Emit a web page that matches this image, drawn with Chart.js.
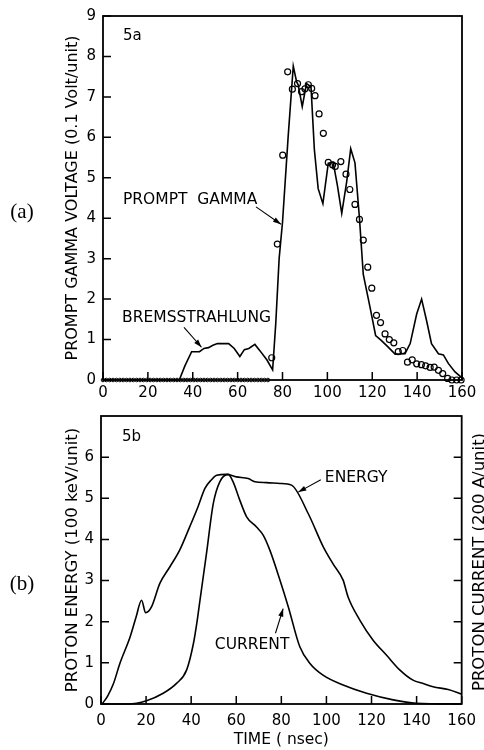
<!DOCTYPE html>
<html lang="en">
<head>
  <meta charset="UTF-8">
  <title>Prompt gamma voltage and proton beam</title>
  <script src="https://cdn.jsdelivr.net/npm/chart.js"></script>
  <style>
    html, body { margin: 0; padding: 0; background: #fff; }
    canvas { display: block; }
  </style>
</head>
<body>
  <canvas id="gammaChart" width="484" height="400"></canvas>
  <canvas id="protonChart" width="484" height="350"></canvas>

  <script>
    // ---- 5a: prompt gamma voltage (solid line) and bremsstrahlung/measured points (circles)
    const gammaTime = [0, 34, 36.5, 39.5, 43, 45, 47, 49, 51, 56, 58.5, 61, 63, 65, 67.7, 70, 73, 75.6, 77, 78.5,
      80, 82.5, 84.8, 86.3, 87, 88.8, 90.7, 92.7, 94.2, 95.9, 98, 100.4, 102.6, 104.5, 106.4, 108.6, 110.4, 112.3, 114.3, 116,
      119, 121.5, 124, 127, 130.2, 134.6, 136.9, 139.8, 142, 144.2, 146.4, 149.5, 151.7, 153.9, 156.9, 160];
    const gammaVolt = [0, 0, 0.35, 0.7, 0.7, 0.78, 0.8, 0.86, 0.9, 0.9, 0.78, 0.58, 0.75, 0.78, 0.88, 0.72, 0.5, 0.25, 1.4, 3.0,
      3.9, 6.0, 7.76, 7.37, 7.3, 6.76, 7.33, 7.25, 5.7, 4.73, 4.36, 5.36, 5.38, 4.8, 4.12, 4.9, 5.72, 5.37, 4.0, 2.61,
      1.8, 1.1, 0.98, 0.82, 0.64, 0.65, 0.9, 1.63, 2.0, 1.47, 0.9, 0.65, 0.62, 0.41, 0.2, 0.05];

    const dotTime = [75.2, 77.7, 80.1, 82.3, 84.4, 86.7, 88.5, 90, 91.5, 93, 94.5, 96.3, 98.2, 100.4, 102.3, 103.5, 106, 108.3, 110, 112.3,
      114.3, 116, 118, 119.8, 121.9, 123.7, 125.7, 127.6, 129.6, 131.6, 133.6, 135.7, 137.8, 139.8, 141.9, 143.8, 145.8, 147.6, 149.5, 151.4,
      153.6, 155.5, 157.6, 159.6];
    const dotVolt = [0.55, 3.36, 5.56, 7.62, 7.19, 7.33, 7.13, 7.2, 7.3, 7.21, 7.03, 6.58, 6.1, 5.38, 5.32, 5.28, 5.4, 5.09, 4.71, 4.34,
      3.97, 3.46, 2.79, 2.27, 1.6, 1.42, 1.14, 1.0, 0.92, 0.7, 0.73, 0.44, 0.5, 0.4, 0.38, 0.35, 0.31, 0.32, 0.24, 0.16,
      0.04, 0, 0, 0];

    // small circles sitting on the baseline before the pulse
    const baseTime = [0, 1.5, 3, 4.5, 6, 7.5, 9, 10.5, 12, 13.5, 15, 16.5, 18, 19.5, 21, 22.5, 24, 25.5, 27, 28.5,
      30, 31.5, 33, 34.5, 36, 37.5, 39, 40.5, 42, 43.5, 45, 46.5, 48, 49.5, 51, 52.5, 54, 55.5, 57, 58.5,
      60, 61.5, 63, 64.5, 66, 67.5, 69, 70.5, 72, 73.5];
    const baseVolt = [0, 0, 0, 0, 0, 0, 0, 0, 0, 0, 0, 0, 0, 0, 0, 0, 0, 0, 0, 0,
      0, 0, 0, 0, 0, 0, 0, 0, 0, 0, 0, 0, 0, 0, 0, 0, 0, 0, 0, 0,
      0, 0, 0, 0, 0, 0, 0, 0, 0, 0];

    // ---- 5b: proton energy and proton current
    const energyTime = [0.5, 3, 5.5, 8.4, 12.9, 15.5, 18, 19.8, 22.4, 26.1, 30.5, 34.9, 39.3, 43, 46.1, 49, 51.3, 55.7, 60.1, 65.3,
      68.3, 73.5, 79.4, 84.5, 91.9, 98.6, 103, 107.4, 109.6, 114.8, 120.7, 126.6, 132.5, 138.4, 142.9, 147.3, 154, 160];
    const energyVal = [0, 0.2, 0.49, 0.99, 1.63, 2.1, 2.52, 2.22, 2.36, 2.93, 3.33, 3.74, 4.3, 4.79, 5.24, 5.45, 5.56, 5.58, 5.52, 5.48,
      5.4, 5.38, 5.36, 5.32, 4.63, 3.82, 3.4, 3.01, 2.6, 2.04, 1.55, 1.19, 0.83, 0.58, 0.5, 0.42, 0.35, 0.24];

    const currentTime = [0, 12, 20.2, 27.6, 33.5, 38, 41, 42.7, 43.9, 46.8, 49.8, 52.7, 56.4, 58.6, 61.6, 64.6, 69, 72, 74.9, 79.4,
      83.1, 88.2, 92.6, 98.5, 107.4, 117.8, 129.6, 139.9, 160];
    const currentVal = [0, 0, 0.08, 0.26, 0.5, 0.83, 1.47, 2.04, 2.52, 3.66, 4.87, 5.4, 5.58, 5.4, 4.95, 4.55, 4.3, 4.1, 3.74, 3.01,
      2.36, 1.39, 0.99, 0.7, 0.46, 0.26, 0.1, 0.02, 0];

    const SANS = "'DejaVu Sans', sans-serif";
    const SERIF = "'Liberation Serif', serif";

    const pts = (xs, ys) => xs.map((x, i) => ({ x: x, y: ys[i] }));

    // frame, inward ticks, labels with arrows
    const figurePlugin = {
      id: 'figure',
      afterDatasetsDraw(chart, args, opts) {
        const { ctx, chartArea: a, scales } = chart;
        const sx = scales.x, sy = scales.y;
        ctx.save();
        ctx.strokeStyle = '#000';
        ctx.fillStyle = '#000';
        ctx.lineWidth = 1.8;
        ctx.strokeRect(a.left, a.top, a.right - a.left, a.bottom - a.top);

        ctx.lineWidth = 1.5;
        ctx.beginPath();
        (opts.tickSides || []).forEach(([id, side]) => {
          const s = scales[id];
          s.ticks.forEach(t => {
            const p = s.getPixelForValue(t.value);
            if (side === 'bottom') { ctx.moveTo(p, a.bottom); ctx.lineTo(p, a.bottom - 8); }
            if (side === 'left') { ctx.moveTo(a.left, p); ctx.lineTo(a.left + 8, p); }
            if (side === 'right') { ctx.moveTo(a.right, p); ctx.lineTo(a.right - 8, p); }
          });
        });
        ctx.stroke();

        ctx.textBaseline = 'middle';
        ctx.textAlign = 'left';
        (opts.labels || []).forEach(l => {
          ctx.font = (l.size || 15.5) + 'px ' + SANS;
          ctx.fillText(l.text, sx.getPixelForValue(l.x), sy.getPixelForValue(l.y));
        });

        ctx.lineWidth = 1.1;
        (opts.arrows || []).forEach(ar => {
          const x1 = sx.getPixelForValue(ar.from[0]), y1 = sy.getPixelForValue(ar.from[1]);
          const x2 = sx.getPixelForValue(ar.to[0]), y2 = sy.getPixelForValue(ar.to[1]);
          const ang = Math.atan2(y2 - y1, x2 - x1);
          const c = Math.cos(ang), s = Math.sin(ang);
          ctx.beginPath();
          ctx.moveTo(x1, y1);
          ctx.lineTo(x2, y2);
          ctx.stroke();
          ctx.beginPath();
          ctx.moveTo(x2, y2);
          ctx.lineTo(x2 - 8 * c + 2.6 * s, y2 - 8 * s - 2.6 * c);
          ctx.lineTo(x2 - 8 * c - 2.6 * s, y2 - 8 * s + 2.6 * c);
          ctx.closePath();
          ctx.fill();
        });

        // panel letter at the far left
        if (opts.panel) {
          ctx.font = '21px ' + SERIF;
          ctx.textAlign = 'center';
          ctx.fillText(opts.panel.text, 22, (a.top + a.bottom) / 2 + opts.panel.dy);
        }

        // right-hand axis title, reading upward like the left one
        if (opts.rightTitle) {
          ctx.save();
          ctx.translate(a.right + 18, (a.top + a.bottom) / 2 + 2);
          ctx.rotate(-Math.PI / 2);
          ctx.font = '16.5px ' + SANS;
          ctx.textAlign = 'center';
          ctx.fillText(opts.rightTitle, 0, 0);
          ctx.restore();
        }
        ctx.restore();
      }
    };

    const tickFont = { family: SANS, size: 15 };

    new Chart(document.getElementById('gammaChart'), {
      type: 'line',
      data: {
        datasets: [
          {
            label: 'Prompt gamma',
            data: pts(gammaTime, gammaVolt),
            borderColor: '#000',
            borderWidth: 1.6,
            pointRadius: 0,
            tension: 0,
            clip: false
          },
          {
            label: 'Measured',
            data: pts(dotTime, dotVolt),
            showLine: false,
            pointStyle: 'circle',
            pointRadius: 3,
            pointBorderWidth: 1.2,
            pointBorderColor: '#000',
            pointBackgroundColor: 'rgba(255,255,255,0)',
            clip: false
          },
          {
            label: 'Baseline',
            data: pts(baseTime, baseVolt),
            showLine: false,
            pointStyle: 'circle',
            pointRadius: 1.8,
            pointBorderWidth: 1,
            pointBorderColor: '#000',
            pointBackgroundColor: 'rgba(255,255,255,0)',
            clip: false
          }
        ]
      },
      options: {
        responsive: false,
        animation: false,
        layout: { padding: { top: 12, right: 22, left: 0, bottom: 0 } },
        plugins: {
          legend: { display: false },
          tooltip: { enabled: false },
          figure: {
            tickSides: [['x', 'bottom'], ['y', 'left']],
            labels: [
              { text: '5a', x: 8.9, y: 8.5, size: 15 },
              { text: 'PROMPT  GAMMA', x: 8.9, y: 4.45 },
              { text: 'BREMSSTRAHLUNG', x: 8.5, y: 1.54 }
            ],
            arrows: [
              { from: [68.2, 4.28], to: [79.3, 3.85] },
              { from: [36.1, 1.3], to: [43.9, 0.81] }
            ],
            panel: { text: '(a)', dy: 14 }
          }
        },
        scales: {
          x: {
            type: 'linear',
            min: 0,
            max: 160,
            ticks: { stepSize: 20, color: '#000', font: tickFont, padding: 4, maxRotation: 0 },
            grid: { display: false, drawTicks: false },
            border: { display: false },
            afterFit: s => { s.height = 20; }
          },
          y: {
            min: 0,
            max: 9,
            ticks: { stepSize: 1, color: '#000', font: tickFont, padding: 7 },
            grid: { display: false, drawTicks: false },
            border: { display: false },
            title: {
              display: true,
              text: 'PROMPT GAMMA VOLTAGE (0.1 Volt/unit)',
              color: '#000',
              font: { family: SANS, size: 16 },
              padding: { top: 63 }
            },
            afterFit: s => { s.width = 103; }
          }
        }
      },
      plugins: [figurePlugin]
    });

    const dropTop = s => { s.ticks = s.ticks.filter(t => t.value <= 6); };

    new Chart(document.getElementById('protonChart'), {
      type: 'line',
      data: {
        datasets: [
          {
            label: 'Energy',
            data: pts(energyTime, energyVal),
            borderColor: '#000',
            borderWidth: 1.6,
            pointRadius: 0,
            cubicInterpolationMode: 'monotone',
            yAxisID: 'y',
            clip: false
          },
          {
            label: 'Current',
            data: pts(currentTime, currentVal),
            borderColor: '#000',
            borderWidth: 1.6,
            pointRadius: 0,
            cubicInterpolationMode: 'monotone',
            yAxisID: 'y2',
            clip: false
          }
        ]
      },
      options: {
        responsive: false,
        animation: false,
        layout: { padding: { top: 15, right: 22, left: 0, bottom: 0 } },
        plugins: {
          legend: { display: false },
          tooltip: { enabled: false },
          figure: {
            tickSides: [['x', 'bottom'], ['y', 'left'], ['y2', 'right']],
            labels: [
              { text: '5b', x: 9.3, y: 6.48, size: 15 },
              { text: 'ENERGY', x: 99.3, y: 5.49 },
              { text: 'CURRENT', x: 50.5, y: 1.43 }
            ],
            arrows: [
              { from: [97.5, 5.45], to: [87.5, 5.15] },
              { from: [77.4, 1.72], to: [80.8, 2.32] }
            ],
            panel: { text: '(b)', dy: 24 },
            rightTitle: 'PROTON CURRENT (200 A/unit)'
          }
        },
        scales: {
          x: {
            type: 'linear',
            min: 0,
            max: 160,
            ticks: { stepSize: 20, color: '#000', font: tickFont, padding: 8, maxRotation: 0 },
            grid: { display: false, drawTicks: false },
            border: { display: false },
            title: {
              display: true,
              text: 'TIME ( nsec)',
              color: '#000',
              font: { family: SANS, size: 15.5 },
              padding: { bottom: 1 }
            },
            afterFit: s => { s.height = 46; }
          },
          y: {
            min: 0,
            max: 7,
            ticks: { stepSize: 1, color: '#000', font: tickFont, padding: 7 },
            afterBuildTicks: dropTop,
            grid: { display: false, drawTicks: false },
            border: { display: false },
            title: {
              display: true,
              text: 'PROTON ENERGY (100 keV/unit)',
              color: '#000',
              font: { family: SANS, size: 16.5 },
              padding: { top: 63 }
            },
            afterFit: s => { s.width = 101; }
          },
          y2: {
            display: false,
            position: 'right',
            min: 0,
            max: 7,
            ticks: { stepSize: 1 },
            afterBuildTicks: dropTop
          }
        }
      },
      plugins: [figurePlugin]
    });
  </script>
</body>
</html>
